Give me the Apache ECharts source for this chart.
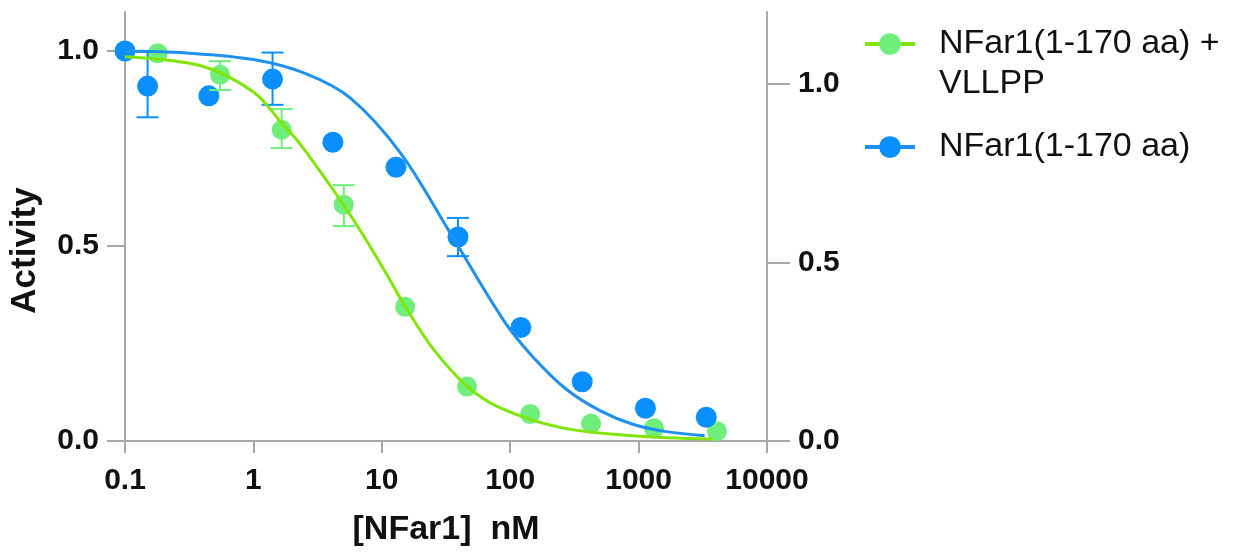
<!DOCTYPE html>
<html><head><meta charset="utf-8">
<script src="https://cdn.jsdelivr.net/npm/echarts@6/dist/echarts.min.js"></script>
<style>html,body{margin:0;padding:0;background:#fff}#c{width:1239px;height:552px}</style>
</head><body><div id="c"></div>
<script>
// ---- data ----
const seriesNames = ['NFar1(1-170 aa) + VLLPP', 'NFar1(1-170 aa)'];
const legendLabels = ['\nNFar1(1-170 aa) +\nVLLPP', 'NFar1(1-170 aa)'];
const xTickLabels = ['0.1', '1', '10', '100', '1000', '10000'];
const yTickValues = [0, 0.5, 1.0];
const yRightTickValues = [0, 0.5, 1.0];

// NFar1(1-170 aa) + VLLPP  (green)
const greenX   = [0.18, 0.55, 1.66, 5.06, 15.2, 46, 143, 426, 1318, 4074];
const greenY   = [0.994, 0.939, 0.798, 0.606, 0.344, 0.140, 0.069, 0.045, 0.033, 0.025];
const greenLo  = [null, 0.900, 0.751, 0.551, null, null, null, null, null, null];
const greenHi  = [null, 0.974, 0.851, 0.656, null, null, null, null, null, null];
const greenCurveX = [0.1, 0.39, 1, 1.66, 2.33, 5.06, 7.25, 10.8, 15.7, 25.3, 46, 83.6, 244, 900, 3800];
const greenCurveY = [0.985, 0.962, 0.895, 0.815, 0.76, 0.605, 0.525, 0.43, 0.338, 0.235, 0.141, 0.085, 0.035, 0.0136, 0.005];

// NFar1(1-170 aa)  (blue)
const blueX   = [0.1, 0.15, 0.45, 1.41, 4.16, 12.9, 39.2, 121, 364, 1130, 3365];
const blueY   = [1.0, 0.910, 0.885, 0.928, 0.766, 0.702, 0.523, 0.291, 0.152, 0.084, 0.061];
const blueLo  = [null, 0.830, null, 0.862, null, null, 0.474, null, null, null, null];
const blueHi  = [null, 0.998, null, 0.996, null, null, 0.572, null, null, null, null];
const blueCurveX = [0.1, 0.3, 1, 2.5, 5.7, 14, 34, 91, 151, 275, 500, 900, 1650, 3266];
const blueCurveY = [1.0, 0.995, 0.978, 0.943, 0.879, 0.738, 0.534, 0.304, 0.215, 0.132, 0.078, 0.043, 0.024, 0.0136];

// ---- styling ----
const GREEN_PT = '#6FEE7C', GREEN_LN = '#80E60A';
const BLUE_PT = '#0A8FFF', BLUE_LN = '#1E90F0';
const AXIS = '#A8A8A8';
const FONT = '"Liberation Sans", Arial, Helvetica, sans-serif';

const zip = (a, b) => a.map((v, i) => [v, b[i]]);
const errData = (x, lo, hi) => x.map((v, i) => [v, lo[i], hi[i]]).filter(d => d[1] != null);

function errRender(color) {
  return function (params, api) {
    const x = api.value(0), lo = api.value(1), hi = api.value(2);
    const t = api.coord([x, hi]), b = api.coord([x, lo]);
    const w = 11;
    const st = { stroke: color, lineWidth: 2 };
    return { type: 'group', children: [
      { type: 'line', shape: { x1: t[0], y1: t[1], x2: b[0], y2: b[1] }, style: st },
      { type: 'line', shape: { x1: t[0] - w, y1: t[1], x2: t[0] + w, y2: t[1] }, style: st },
      { type: 'line', shape: { x1: b[0] - w, y1: b[1], x2: b[0] + w, y2: b[1] }, style: st }
    ]};
  };
}

const chart = echarts.init(document.getElementById('c'), null, { renderer: 'canvas' });
const axisLabelBold = { color: '#111', fontFamily: FONT, fontWeight: 'bold', fontSize: 30 };
const legendText = { fontFamily: FONT, fontSize: 34, color: '#111', lineHeight: 40, padding: [0, 0, 0, 19] };

chart.setOption({
  animation: false,
  backgroundColor: '#fff',
  grid: { left: 124, right: 472, top: 12, bottom: 110, containLabel: false },
  legend: [
    { data: [seriesNames[0]], orient: 'vertical', left: 863, top: -16, padding: 0,
      itemWidth: 50, itemHeight: 27, formatter: n => legendLabels[0],
      textStyle: legendText, lineStyle: { width: 4 } },
    { data: [seriesNames[1]], orient: 'vertical', left: 863, top: 127, padding: 0,
      itemWidth: 50, itemHeight: 27, formatter: n => legendLabels[1],
      textStyle: legendText, lineStyle: { width: 4 } }
  ],
  xAxis: [
    { type: 'log', logBase: 10, min: 0.1, max: 10000, position: 'bottom',
      name: '[NFar1]  nM', nameLocation: 'middle', nameGap: 72,
      nameTextStyle: { fontFamily: FONT, fontWeight: 'bold', fontSize: 34, color: '#111' },
      axisLine: { lineStyle: { color: AXIS, width: 2 } },
      axisTick: { show: true, length: 12, lineStyle: { color: AXIS, width: 2 } },
      axisLabel: Object.assign({ margin: 25, formatter: v => xTickLabels[Math.round(Math.log10(v)) + 1] }, axisLabelBold),
      splitLine: { show: false }, minorTick: { show: false } },
    { type: 'log', logBase: 10, min: 0.1, max: 10000, position: 'top',
      axisLine: { lineStyle: { color: AXIS, width: 2 } },
      axisTick: { show: false }, axisLabel: { show: false }, splitLine: { show: false } }
  ],
  yAxis: [
    { type: 'value', min: 0, max: 1.1, position: 'left',
      name: 'Activity', nameLocation: 'middle', nameGap: 82, nameRotate: 90,
      nameTextStyle: { fontFamily: FONT, fontWeight: 'bold', fontSize: 35, color: '#111', padding: [0, 48, 0, 0] },
      axisLine: { show: true, lineStyle: { color: AXIS, width: 2 } },
      axisTick: { show: true, length: 18, customValues: yTickValues, lineStyle: { color: AXIS, width: 2 } },
      axisLabel: Object.assign({ margin: 26, customValues: yTickValues, formatter: v => v.toFixed(1) }, axisLabelBold),
      splitLine: { show: false } },
    { type: 'value', min: 0, max: 1.2, position: 'right',
      axisLine: { show: true, lineStyle: { color: AXIS, width: 2 } },
      axisTick: { show: true, length: 23, customValues: yRightTickValues, lineStyle: { color: AXIS, width: 2 } },
      axisLabel: Object.assign({ margin: 31, customValues: yRightTickValues, formatter: v => v.toFixed(1) }, axisLabelBold),
      splitLine: { show: false } }
  ],
  series: [
    { name: seriesNames[0], type: 'line', data: zip(greenCurveX, greenCurveY), smooth: 0.35, showSymbol: false,
      symbol: 'circle', symbolSize: 20, itemStyle: { color: GREEN_PT },
      lineStyle: { color: GREEN_LN, width: 3 }, z: 5 },
    { name: seriesNames[1], type: 'line', data: zip(blueCurveX, blueCurveY), smooth: 0.35, showSymbol: false,
      symbol: 'circle', symbolSize: 21, itemStyle: { color: BLUE_PT },
      lineStyle: { color: BLUE_LN, width: 3 }, z: 6 },
    { name: seriesNames[0], type: 'scatter', data: zip(greenX, greenY), symbol: 'circle', symbolSize: 20,
      itemStyle: { color: GREEN_PT, opacity: 1 }, z: 2 },
    { name: seriesNames[1], type: 'scatter', data: zip(blueX, blueY), symbol: 'circle', symbolSize: 21,
      itemStyle: { color: BLUE_PT, opacity: 1 }, z: 3 },
    { name: seriesNames[0], type: 'custom', renderItem: errRender(GREEN_PT), data: errData(greenX, greenLo, greenHi), z: 4 },
    { name: seriesNames[1], type: 'custom', renderItem: errRender(BLUE_PT), data: errData(blueX, blueLo, blueHi), z: 4 }
  ]
});
</script>
</body></html>
